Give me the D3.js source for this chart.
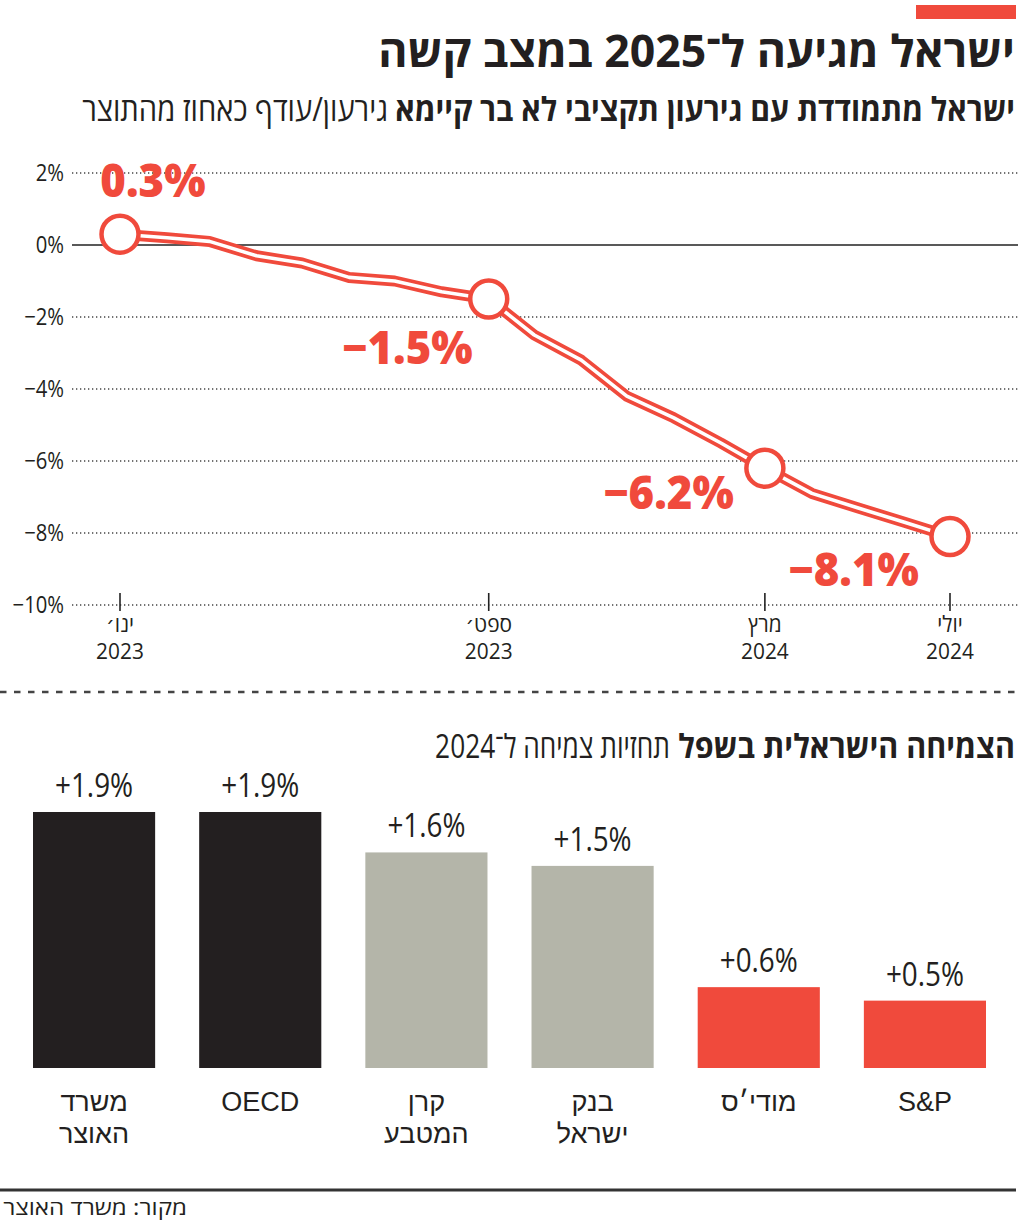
<!DOCTYPE html>
<html><head><meta charset="utf-8">
<script src="https://cdn.jsdelivr.net/npm/d3@7"></script>
<style>
html,body{margin:0;padding:0;background:#fff;}
svg{display:block;}
</style>
</head><body>
<svg id="c" width="1024" height="1225"></svg>
<script>
// ---------- DATA ----------
const title = "ישראל מגיעה ל־2025 במצב קשה";
const subtitleBold = "ישראל מתמודדת עם גירעון תקציבי לא בר קיימא";
const subtitleReg = "גירעון/עודף כאחוז מהתוצר";
const months = ["2023-01","2023-02","2023-03","2023-04","2023-05","2023-06","2023-07","2023-08","2023-09","2023-10","2023-11","2023-12","2024-01","2024-02","2024-03","2024-04","2024-05","2024-06","2024-07"];
const deficit = [0.3,0.2,0.1,-0.3,-0.5,-0.9,-1.0,-1.3,-1.5,-2.5,-3.2,-4.2,-4.8,-5.5,-6.2,-6.9,-7.3,-7.7,-8.1];
const highlightMonths = ["2023-01","2023-09","2024-03","2024-07"];
const highlightLabels = ["0.3%","−1.5%","−6.2%","−8.1%"];
const yTicks = [2,0,-2,-4,-6,-8,-10];
const yTickLabels = ["2%","0%","−2%","−4%","−6%","−8%","−10%"];
const xTickMonths = ["2023-01","2023-09","2024-03","2024-07"];
const xTickLabels1 = ["ינו׳","ספט׳","מרץ","יולי"];
const xTickLabels2 = ["2023","2023","2024","2024"];

const barTitleBold = "הצמיחה הישראלית בשפל";
const barTitleReg = "תחזיות צמיחה ל־2024";
const forecasters = ["משרד האוצר","OECD","קרן המטבע","בנק ישראל","מודי׳ס","S&P"];
const growth = [1.9,1.9,1.6,1.5,0.6,0.5];
const growthLabels = ["+1.9%","+1.9%","+1.6%","+1.5%","+0.6%","+0.5%"];
const source = "מקור: משרד האוצר";

// ---------- STYLE ----------
const RED = "#f04a3c", DARK = "#231f20", GREY = "#b4b5a9";
const barColors = [DARK, DARK, GREY, GREY, RED, RED];
const HEB = "'Open Sans','DejaVu Sans',sans-serif";
const ARIAL = "'Liberation Sans',Arial,sans-serif";

const svg = d3.select("#c");
const parse = d3.timeParse("%Y-%m");

// text helper: horizontal condensing via transform (so bounding boxes stay true)
// o: {anchor, size, weight, family, fill, width (target), k (scale)}
function txt(parent, x, y, str, o){
  const t = parent.append("text").attr("x",0).attr("y",0)
    .attr("text-anchor", o.anchor || "middle")
    .style("font-family", o.family || HEB)
    .style("font-weight", o.weight || 400)
    .style("font-size", (o.size||20)+"px")
    .attr("fill", o.fill || DARK)
    .text(str);
  if (o.dy) t.attr("dy", o.dy);
  let k = o.k || 1;
  if (o.width) { const L = t.node().getComputedTextLength(); k = o.width / L; }
  t.attr("transform", `translate(${x},${y}) scale(${k},1)`);
  return t;
}

// ---------- HEADER ----------
svg.append("rect").attr("x",916).attr("y",5).attr("width",100).attr("height",14).attr("fill",RED);
txt(svg, 1015, 67, title, {anchor:"end", size:44, weight:700, width:637});
txt(svg, 1015, 121, subtitleBold, {anchor:"end", size:33, weight:700, width:620});
txt(svg, 388, 121, subtitleReg, {anchor:"end", size:33, weight:400, width:306});

// ---------- LINE CHART ----------
const x = d3.scaleTime().domain([parse("2023-01"), parse("2024-07")]).range([120, 950]);
const y = d3.scaleLinear().domain([-10, 2]).range([605, 173]);
const gridX0 = 72, gridX1 = 1018;

const grid = svg.append("g");
yTicks.forEach((t,i)=>{
  grid.append("line").attr("x1",gridX0).attr("x2",gridX1).attr("y1",y(t)).attr("y2",y(t))
    .attr("stroke", t===0 ? "#222" : "#444")
    .attr("stroke-width", t===0 ? 1.6 : 1.3)
    .attr("stroke-dasharray", t===0 ? null : "1.3,2.7");
  txt(grid, 64, y(t), yTickLabels[i], {anchor:"end", size:23, k:0.88, dy:"0.36em"});
});

xTickMonths.forEach((m,i)=>{
  const xx = x(parse(m));
  grid.append("line").attr("x1",xx).attr("x2",xx).attr("y1",y(-10)-12).attr("y2",y(-10)+6)
    .attr("stroke","#222").attr("stroke-width",1.6);
  txt(grid, xx, 632, xTickLabels1[i], {size:22, k:0.95});
  txt(grid, xx, 659, xTickLabels2[i], {size:22, k:0.95});
});

const pts = months.map((m,i)=>[x(parse(m)), y(deficit[i])]);
const line = d3.line();
svg.append("path").attr("d",line(pts)).attr("fill","none").attr("stroke",RED)
  .attr("stroke-width",11).attr("stroke-linejoin","round").attr("stroke-linecap","round");
svg.append("path").attr("d",line(pts)).attr("fill","none").attr("stroke","#fff")
  .attr("stroke-width",3.6).attr("stroke-linejoin","round").attr("stroke-linecap","round");

const labelOffsets = [[33,-37],[-81,65],[-96,41],[-96,49]];
highlightMonths.forEach((m,i)=>{
  const idx = months.indexOf(m);
  const cx = x(parse(m)), cy = y(deficit[idx]);
  svg.append("circle").attr("cx",cx).attr("cy",cy).attr("r",18.5)
    .attr("fill","#fff").attr("stroke",RED).attr("stroke-width",4.5);
  txt(svg, cx+labelOffsets[i][0], cy+labelOffsets[i][1], highlightLabels[i],
      {size:46, weight:800, fill:RED, k:0.95});
});

// ---------- SEPARATOR ----------
svg.append("line").attr("x1",0).attr("x2",1018).attr("y1",692).attr("y2",692)
  .attr("stroke","#444").attr("stroke-width",2.5).attr("stroke-dasharray","6.5,7.5");

// ---------- BAR CHART ----------
txt(svg, 1015, 758, barTitleBold, {anchor:"end", size:33, weight:700, width:337});
txt(svg, 670, 758, barTitleReg, {anchor:"end", size:33, weight:400, width:235});

const bx = d3.scaleBand().domain(forecasters).range([33, 986]).paddingInner(0.265).paddingOuter(0);
const by = d3.scaleLinear().domain([0, 1.9]).range([1068, 812]);

const bars = svg.append("g");
forecasters.forEach((f,i)=>{
  bars.append("rect").attr("x",bx(f)).attr("y",by(growth[i])).attr("width",bx.bandwidth())
    .attr("height",by(0)-by(growth[i])).attr("fill",barColors[i]);
  txt(bars, bx(f)+bx.bandwidth()/2, by(growth[i])-15, growthLabels[i], {size:32, k:0.87});
  const parts = f.split(" ");
  parts.forEach((p,j)=>{
    txt(bars, bx(f)+bx.bandwidth()/2, 1111+j*32, p, {size:27, family:ARIAL});
  });
});

// ---------- FOOTER ----------
svg.append("line").attr("x1",0).attr("x2",1016).attr("y1",1190).attr("y2",1190)
  .attr("stroke","#333").attr("stroke-width",3);
txt(svg, 187, 1215, source, {anchor:"end", size:21, width:184});
</script>
</body></html>
